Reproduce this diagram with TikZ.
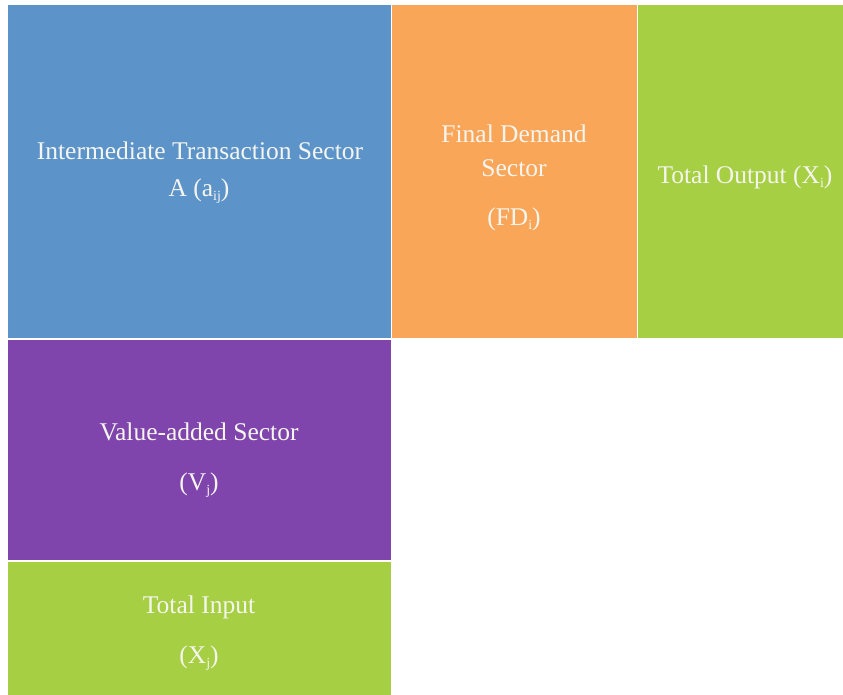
\documentclass[tikz,border=0pt]{standalone}
\usepackage{fontspec}
\setmainfont{Liberation Serif}
\definecolor{cblue}{RGB}{92,148,201}
\definecolor{corange}{RGB}{250,166,88}
\definecolor{cgreen}{RGB}{167,207,67}
\definecolor{cpurple}{RGB}{128,69,172}
\definecolor{ctext}{RGB}{245,245,240}
\newcommand{\lowsub}[1]{\raisebox{-0.35ex}{\fontsize{14}{14}\selectfont #1}}
\tikzset{
  lbl/.style={text=ctext, font=\fontsize{25.5}{30}\selectfont, inner sep=0pt, align=center}
}
\begin{document}
\begin{tikzpicture}[x=1pt,y=-1pt]
\useasboundingbox (0,0) rectangle (843,695);
\fill[white] (0,0) rectangle (843,695);
% cells
\fill[cblue] (8,5) rectangle (390.5,338);
\fill[corange] (392,5) rectangle (636.5,338);
\fill[cgreen] (638,5) rectangle (843,338);
\fill[cpurple] (8,339.5) rectangle (390.5,560);
\fill[cgreen] (8,561.5) rectangle (390.5,695);
% labels
\node[lbl] (its) at (200,151) {Intermediate Transaction Sector};
\node[lbl] (aij) at (199,191) {A (a\lowsub{ij})};
\node[lbl] (fd1) at (514,134) {Final Demand};
\node[lbl] (fd2) at (514,168) {Sector};
\node[lbl] (fdi) at (514,219) {(FD\lowsub{i})};
\node[lbl] (to) at (745,177) {Total Output (X\lowsub{i})};
\node[lbl] (va) at (199,432) {Value-added Sector};
\node[lbl] (vj) at (199,485) {(V\lowsub{j})};
\node[lbl] (ti) at (199,607) {Total Input};
\node[lbl] (xj) at (199,658) {(X\lowsub{j})};
\end{tikzpicture}
\end{document}
